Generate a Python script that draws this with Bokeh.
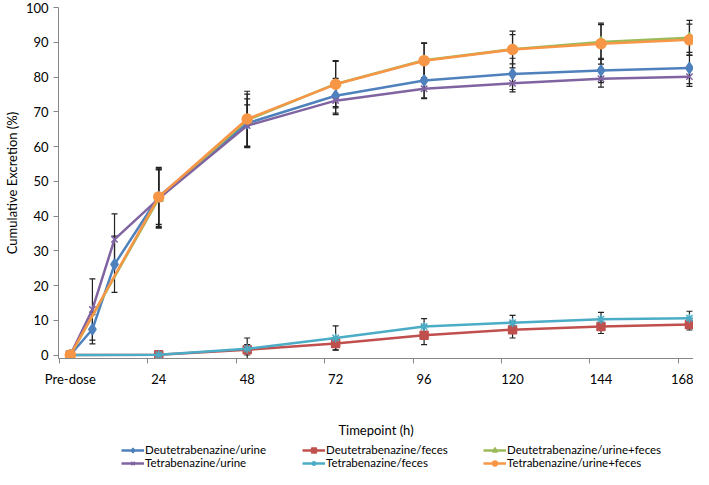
from bokeh.plotting import figure
from bokeh.layouts import column
from bokeh.models import (ColumnDataSource, Whisker, TeeHead, LinearAxis, FixedTicker,
                          Legend, LegendItem, Range1d)
from bokeh.embed import file_html
from bokeh.resources import INLINE
import numpy as np

# ---- data ----
hours_urine = [0, 6, 12, 24, 48, 72, 96, 120, 144, 168]
hours_other = [0, 24, 48, 72, 96, 120, 144, 168]

deut_urine = [0, 7.4, 26.1, 45.6, 66.7, 74.6, 79.0, 80.9, 81.9, 82.6]
deut_urine_sd = [0, 4.2, 8.1, 8.0, 7.0, 5.0, 5.0, 4.5, 3.5, 4.5]
deut_feces = [0, 0.1, 1.5, 3.3, 5.7, 7.3, 8.2, 8.8]
deut_feces_sd = [0, 0.1, 1.5, 1.8, 2.7, 2.4, 2.0, 1.6]
deut_total = [0, 45.0, 67.6, 78.0, 84.8, 88.0, 90.1, 91.3]
deut_total_sd = [0, 8.3, 7.5, 6.5, 5.0, 4.2, 5.0, 5.0]

tet_urine = [0, 13.1, 33.3, 45.0, 66.0, 73.2, 76.6, 78.2, 79.5, 80.1]
tet_urine_sd = [0, 8.8, 7.3, 8.5, 6.0, 4.0, 2.8, 2.5, 2.4, 2.8]
tet_feces = [0, 0.1, 1.8, 4.9, 8.2, 9.3, 10.3, 10.6]
tet_feces_sd = [0, 0.1, 3.1, 3.5, 2.3, 2.1, 2.0, 2.0]
tet_total = [0, 45.5, 67.9, 77.9, 84.7, 87.9, 89.6, 90.7]
tet_total_sd = [0, 8.5, 8.0, 6.8, 5.0, 5.3, 5.9, 4.5]

x_label_ticks = [0, 24, 48, 72, 96, 120, 144, 168]
x_mark_ticks = [-3, 21, 45, 69, 93, 117, 141, 165]
y_ticks = [0, 10, 20, 30, 40, 50, 60, 70, 80, 90, 100]

series = [
    ("Deutetrabenazine/urine", hours_urine, deut_urine, deut_urine_sd, "#4F81BD", "diamond", 11),
    ("Deutetrabenazine/feces", hours_other, deut_feces, deut_feces_sd, "#C0504D", "square", 8),
    ("Deutetrabenazine/urine+feces", hours_other, deut_total, deut_total_sd, "#9BBB59", "triangle", 9),
    ("Tetrabenazine/urine", hours_urine, tet_urine, tet_urine_sd, "#8064A2", "x", 9),
    ("Tetrabenazine/feces", hours_other, tet_feces, tet_feces_sd, "#4BACC6", "asterisk", 9),
    ("Tetrabenazine/urine+feces", hours_other, tet_total, tet_total_sd, "#F79646", "circle", 10),
]

FONT = "Lato"

p = figure(width=693, height=441, output_backend="svg", toolbar_location=None,
           x_range=Range1d(-3.2, 169.1), y_range=Range1d(-1, 100),
           min_border_left=47, min_border_right=0, min_border_top=7, min_border_bottom=83)
p.outline_line_color = None
p.grid.visible = False
p.background_fill_color = "white"

# y axis
ya = p.yaxis[0]
ya.ticker = FixedTicker(ticks=y_ticks)
ya.axis_line_color = "#868686"
ya.major_tick_line_color = "#868686"
ya.major_tick_out = 5
ya.major_tick_in = 0
ya.minor_tick_line_color = None
ya.major_label_text_font = FONT
ya.major_label_text_font_size = "13px"
ya.major_label_text_color = "black"
ya.major_label_standoff = 5
ya.axis_label = "Cumulative Excretion (%)"
ya.axis_label_text_font = FONT
ya.axis_label_text_font_size = "13px"
ya.axis_label_text_font_style = "normal"
ya.axis_label_text_color = "black"
ya.axis_label_standoff = 3

# x axis: tick marks only
xa = p.xaxis[0]
xa.ticker = FixedTicker(ticks=x_mark_ticks)
xa.axis_line_color = "#868686"
xa.major_tick_line_color = "#868686"
xa.major_tick_out = 5
xa.major_tick_in = 0
xa.minor_tick_line_color = None
xa.major_label_overrides = {t: " " for t in x_mark_ticks}
xa.major_label_text_font_size = "2px"
xa.major_label_standoff = 0

# x axis: labels
xl = LinearAxis(ticker=FixedTicker(ticks=x_label_ticks),
                major_label_overrides={0: "Pre-dose"})
xl.axis_line_color = None
xl.major_tick_line_color = None
xl.major_tick_out = 0
xl.major_tick_in = 0
xl.minor_tick_line_color = None
xl.major_label_text_font = FONT
xl.major_label_text_font_size = "13px"
xl.major_label_text_color = "black"
xl.major_label_standoff = 2
xl.axis_label = "Timepoint (h)"
xl.axis_label_text_font = FONT
xl.axis_label_text_font_size = "13px"
xl.axis_label_text_font_style = "normal"
xl.axis_label_text_color = "black"
xl.axis_label_standoff = 32
p.add_layout(xl, "below")

# error bars
for name, xs, ys, sd, col, mk, sz in series:
    xs_a, ys_a, sd_a = np.array(xs, float), np.array(ys, float), np.array(sd, float)
    m = sd_a > 0
    src = ColumnDataSource(dict(x=xs_a[m], lo=ys_a[m] - sd_a[m], hi=ys_a[m] + sd_a[m]))
    w = Whisker(base="x", lower="lo", upper="hi", source=src, line_color="#222222",
                line_width=1.2, level="underlay",
                upper_head=TeeHead(size=6, line_color="#222222", line_width=1.2),
                lower_head=TeeHead(size=6, line_color="#222222", line_width=1.2))
    p.add_layout(w)

sources = []
for name, xs, ys, sd, col, mk, sz in series:
    src = ColumnDataSource(dict(x=xs, y=ys))
    sources.append(src)
    p.line("x", "y", source=src, line_color=col, line_width=2.5)
    p.scatter("x", "y", source=src, marker=mk, size=sz, fill_color=col,
              line_color=col, line_width=1.5)

# legend strip (separate small figure below the chart; its view shows no data)
lf = figure(width=693, height=28, output_backend="svg", toolbar_location=None,
            x_range=Range1d(-300, -200), y_range=Range1d(-300, -200), min_border=0,
            x_axis_location=None, y_axis_location=None)
lf.outline_line_color = None
lf.grid.visible = False
items = []
for (name, xs, ys, sd, col, mk, sz), src in zip(series, sources):
    rl = lf.line("x", "y", source=src, line_color=col, line_width=2.5)
    rm = lf.scatter("x", "y", source=src, marker=mk, size=sz - 1, fill_color=col,
                    line_color=col, line_width=1.5)
    items.append(LegendItem(label=name, renderers=[rl, rm]))

leg = Legend(items=items, ncols=3, orientation="horizontal", location=(63, 0))
leg.label_text_font = FONT
leg.label_text_font_size = "11.5px"
leg.label_text_color = "black"
leg.glyph_width = 23
leg.glyph_height = 12
leg.label_height = 12
leg.label_width = 157
leg.label_standoff = 1
leg.spacing = 0
leg.padding = 0
leg.margin = 0
leg.border_line_color = None
leg.background_fill_alpha = 0
lf.add_layout(leg, "center")

open("out.html", "w").write(file_html(column(p, lf), INLINE))
